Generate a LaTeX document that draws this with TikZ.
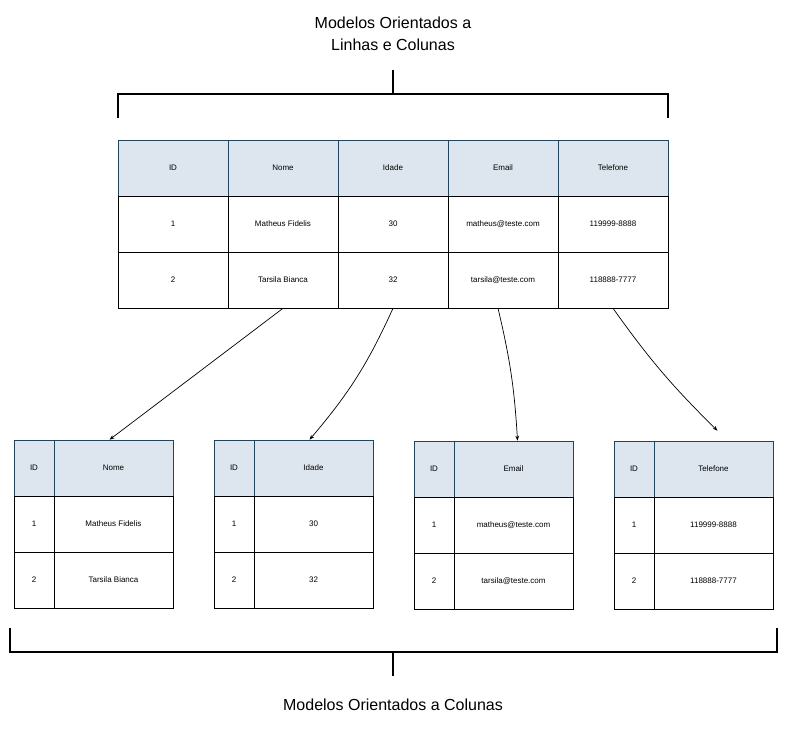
\documentclass[tikz,border=0pt]{standalone}
\usepackage{fontspec}
\setmainfont{Liberation Sans}
\usetikzlibrary{arrows.meta}
\definecolor{hdr}{HTML}{DDE6EE}
\definecolor{hdrline}{HTML}{23445D}
\begin{document}
\begin{tikzpicture}[x=1pt,y=-1pt,
  cell/.style={draw=black,line width=0.6pt,minimum height=56pt,inner sep=0pt,font=\fontsize{8}{9}\selectfont},
  hcell/.style={cell,fill=hdr,draw=hdrline},
  wide/.style={minimum width=110pt},
  narrow/.style={minimum width=40pt},
  mid/.style={minimum width=119pt},
  conn/.style={-{Stealth[length=5pt]},line width=0.7pt},
  brace/.style={line width=1.4pt},
  title/.style={font=\fontsize{16}{22}\selectfont,align=center}]
\useasboundingbox (0,0) rectangle (787,729);
\node[title] (t1) at (393,34) {Modelos Orientados a\\Linhas e Colunas};
\node[title] (t2) at (393,705) {Modelos Orientados a Colunas};
% top brace
\draw[brace] (118,118) -- (118,94) -- (668,94) -- (668,118);
\draw[brace] (393,94) -- (393,70);
% bottom brace
\draw[brace] (10,628) -- (10,652) -- (777,652) -- (777,628);
\draw[brace] (393,652) -- (393,676);
% top table
\node[hcell,wide] (hID) at (173,168) {ID};
\node[hcell,wide] (hNome) at (283,168) {Nome};
\node[hcell,wide] (hIdade) at (393,168) {Idade};
\node[hcell,wide] (hEmail) at (503,168) {Email};
\node[hcell,wide] (hTel) at (613,168) {Telefone};
\node[cell,wide] (a1) at (173,224) {1};
\node[cell,wide] (a2) at (283,224) {Matheus Fidelis};
\node[cell,wide] (a3) at (393,224) {30};
\node[cell,wide] (a4) at (503,224) {matheus@teste.com};
\node[cell,wide] (a5) at (613,224) {119999-8888};
\node[cell,wide] (b1) at (173,280) {2};
\node[cell,wide] (b2) at (283,280) {Tarsila Bianca};
\node[cell,wide] (b3) at (393,280) {32};
\node[cell,wide] (b4) at (503,280) {tarsila@teste.com};
\node[cell,wide] (b5) at (613,280) {118888-7777};
% table 1
\node[hcell,narrow] (p1h) at (34,468) {ID};
\node[hcell,mid] (q1h) at (113.5,468) {Nome};
\node[cell,narrow] (p1a) at (34,524) {1};
\node[cell,mid] (q1a) at (113.5,524) {Matheus Fidelis};
\node[cell,narrow] (p1b) at (34,580) {2};
\node[cell,mid] (q1b) at (113.5,580) {Tarsila Bianca};
% table 2
\node[hcell,narrow] (p2h) at (234,468) {ID};
\node[hcell,mid] (q2h) at (313.5,468) {Idade};
\node[cell,narrow] (p2a) at (234,524) {1};
\node[cell,mid] (q2a) at (313.5,524) {30};
\node[cell,narrow] (p2b) at (234,580) {2};
\node[cell,mid] (q2b) at (313.5,580) {32};
% table 3
\node[hcell,narrow] (p3h) at (434,469) {ID};
\node[hcell,mid] (q3h) at (513.5,469) {Email};
\node[cell,narrow] (p3a) at (434,525) {1};
\node[cell,mid] (q3a) at (513.5,525) {matheus@teste.com};
\node[cell,narrow] (p3b) at (434,581) {2};
\node[cell,mid] (q3b) at (513.5,581) {tarsila@teste.com};
% table 4
\node[hcell,narrow] (p4h) at (634,469) {ID};
\node[hcell,mid] (q4h) at (713.5,469) {Telefone};
\node[cell,narrow] (p4a) at (634,525) {1};
\node[cell,mid] (q4a) at (713.5,525) {119999-8888};
\node[cell,narrow] (p4b) at (634,581) {2};
\node[cell,mid] (q4b) at (713.5,581) {118888-7777};
% connectors
\draw[conn] (b2.south) -- ([xshift=-4pt]q1h.north);
\draw[conn] (b3.south) to[bend left=8] ([xshift=-4pt]q2h.north);
\draw[conn] ([xshift=-5pt]b4.south) to[bend left=5] ([xshift=4pt]q3h.north);
\draw[conn] (b5.south) to[bend right=5] ([xshift=4pt,yshift=10pt]q4h.north);
\end{tikzpicture}
\end{document}
